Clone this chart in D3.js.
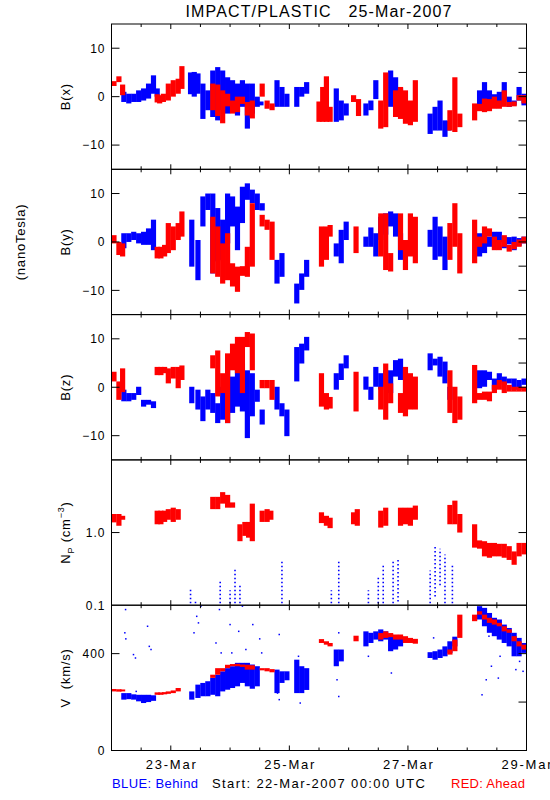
<!DOCTYPE html>
<html><head><meta charset="utf-8">
<script src="https://cdn.jsdelivr.net/npm/d3@7"></script>
<style>
body{margin:0;background:#fff}
svg{display:block}
text{font-family:"Liberation Sans",Arial,sans-serif;fill:#000}
</style>
</head><body>
<svg id="c" width="550" height="800"></svg>
<script>
// ---- data: hours since 22-Mar-2007 00:00 UTC, [hour, low, high] ranges per ~2h bin ----
const dayLabels = ["23-Mar","25-Mar","27-Mar","29-Mar"];
const dayLabelHours = [24,72,120,168];

const bxAhead = [
[1,2.2,3.2],[3,3,4.2],[4.5,0.3,2.5],
[18.5,-1.2,0.5],[19.5,-1.4,0.3],[21,-1.1,0.6],[23,-0.8,2.7],[25,0,3.4],[27,0.6,3.7],[28.5,1.6,6.3],
[41,-2.8,2.7],[43,-4,2.5],[45,-5.5,1.3],[47,-2,0.6],[49,-3.5,-0.8],[51,-3.2,0],[53,-1.5,0],[55,-3.9,-1.1],[57,-4.5,-0.8],
[61,0,2.7],[63,-2.5,-0.8],[65,-2.8,-1.4],
[84,-5.2,-1],[85.5,-5.2,2],[87,-5.2,4.2],[88.5,-5.2,-2.1],
[98,-1.1,0.3],[100,-4,-0.5],
[109,-6.6,-0.8],[111,-6.3,5],
[115,-4.2,1.3],[117,-4.6,2],[119,-5.6,1.3],[121,-5.9,-0.8],[123,-5.2,3.4],
[137,-7,-2.8],[139,-7.3,4],[141,-6.3,-3.5],
[147,-4.9,-1.4],[149,-3,-1.5],[151,-3.2,-0.4],[153,-3,-0.5],[155,-2.5,0],[157,-2.5,-0.8],[159,-2.1,1.3],[161,-2.1,-1.1],[163,-2,-1],[165,-0.8,0.3],[167,-1.4,0.3]
];
const bxBehind = [
[5,-1.1,1],[7,-1.4,0.6],[9,-1.1,0.6],[11,-1.1,1.3],[13,-0.8,1.7],[15,-0.4,2.7],[17,0.6,4.4],[18.5,0,1.7],
[32,0.5,5],[33.5,0,5.1],[35,0.6,4.8],[37,-4.6,2.7],[39,-2.8,1.3],[41,-4.2,5.4],[43,-4.9,6.1],[45,-2.8,5.4],[47,-3.5,4],[49,-2.8,3.4],[51,-3.9,2.7],[53,-2.1,3.4],[55,-6.6,2.7],[57,-3.5,2.7],[59,-2.1,0],[60.5,-1.8,-1],
[67,-2.1,3.4],[69,-2.1,2],[71,-2.1,0.6],
[75,-2.1,2],[77,0,2],[79,0.6,3],
[91,-5.2,1.7],[93,-4.9,-0.8],[95,-3.9,-1.4],
[103,-3.9,-1.4],[105,-2.8,-0.8],[107,-0.5,3.4],
[113,-2.1,5.4],[115,-1.4,4],[117,-2.1,1.7],
[129,-7.7,-3.5],[131,-7,-2.1],[133,-7,-0.8],[135,-8.3,-4.9],[136.5,-7,-5],
[149,-2.8,1.3],[151,-1.8,3],[153,-2.1,1.3],[155,-2,0.5],[157,-2.1,1],[159,-0.8,3],[161,-2.1,0],[163,-1.8,-0.8],[165,-0.8,2],[167,-1.8,0.6]
];
const byAhead = [
[1,-0.3,1.4],[3,-2.7,0],[4.5,-3,-0.3],
[18.5,-3.4,-1],[20,-3.4,-1],[21.5,-3,-0.6],[23,-2.3,3.9],[25,-1.7,3.2],[27,0.4,3.9],[28.5,1.1,6.3],
[41,-6.5,5.2],[43,-7.2,3.2],[45,-8.6,-0.3],[47,-7.9,1.8],[49,-9.2,-4.4],[51,-10.3,-5.1],[53,-7,-5],[55,-7.2,-1],[57,-5.1,8],
[61,3.2,5.6],[63,2.5,4.6],[65,-3.7,4.2],
[85,-5.1,3.2],[87,-3.7,3.2],[88.5,1.1,3.5],
[99,-2.3,3.2],
[109,-3,5.9],[111,-5.8,5.9],[113,-6.1,-2.3],
[117,-1.7,5.9],[119,-5.8,0.4],[121,-3,5.9],[123,-4.4,5.2],
[137,-3.7,3.9],[139,-1,8],[141,-6.5,1.8],
[147,-4.4,4.6],[149,-1,1.1],[151,-0.3,3.2],[153,1.1,2.8],[155,-1.7,1.1],[157,-1.7,0.4],[159,-1,1.4],[161,-2,-0.6],[163,-1.5,0],[165,-1,0.5],[167,-0.3,1.1]
];
const byBehind = [
[5,-1.3,1.8],[7,0,1.8],[9,0.4,2.1],[11,-0.3,1.8],[13,-0.6,2.1],[15,-0.6,2.8],[17,-1.7,4.6],
[32.5,-5.1,4.6],[35,-7.9,0.4],[37,3.2,9.4],[39,6.6,10],[41,-6.5,10],[43,-4,7],[45,-3.7,4.6],[47,-0.3,10],[49,3.2,9.4],[51,-1.7,7.3],[53,3.9,11.4],[55,8.7,12.1],[57,8,10.8],[59,6.6,10],[61,6.5,8],
[67,-8.6,-3.7],[69,-7.2,-2.3],
[75,-12.7,-8.6],[77,-9.9,-6.5],[79,-7.2,-3.7],
[91,-3,-0.3],[93,-4.4,2.5],[95,0.4,4.2],
[103,-1,1.1],[105,-1,3],[107,-3,1.8],[109,0.4,5.2],[111,1.5,5.9],[113,3.2,6.3],[115,1.1,5.9],[117,-3.7,1.8],
[129,-1,2.5],[131,-3.7,5.2],[133,-3,3.2],[135,-5.8,1.1],
[149,-3,1.8],[151,-2.3,1.1],[153,-1,1.1],[155,0,2.1],[157,0,2.1],[159,-1.3,1.1],[161,-0.5,1],[163,-1.7,1.1],[165,-0.8,0.8],[167,-0.3,1.1]
];
const bzAhead = [
[1,1.2,3.2],[3,-2.6,1.2],[4.5,-1,3.9],
[18.5,2.5,4.2],[20,2.5,4.2],[21.5,2.9,4.2],[23,0.8,3.9],[25,1.8,4.2],[27,-0.2,4.2],[28.5,1.5,4.5],
[41,3.9,6.6],[43,-1.9,7.6],[45,-1.2,2.9],[47,-7.4,7],[49,3.5,9],[51,2.9,10.4],[53,-1.2,10.4],[55,8.3,11.4],[57,3.5,11.1],
[61,-0.2,1.5],[63,-0.2,1.5],[65,-2.6,1.5],
[85,-4,2.9],[87,-4.6,-1.2],[88.5,-4.4,-2],
[99,-5,3.2],
[109,-4.6,0.1],[111,-6.7,4.9],[113,-3.3,0.8],
[117,-5.3,-1.2],[119,-6,4.2],[121,-4.6,2.9],[123,-4.6,2.2],
[137,-5.3,3.5],[139,-7.4,0.1],[141,-6.7,-1.9],
[147,-3.3,4.6],[149,-2.6,-1.2],[151,-2.6,-0.9],[153,-2.9,-0.9],[155,-1.2,0.5],[157,-0.5,1.5],[159,-1.2,1.2],[161,-0.9,0.5],[163,-0.9,0.1],[165,-0.9,0.1],[167,-0.9,0.1]
];
const bzBehind = [
[5,-2.9,-0.5],[7,-2.9,-1.2],[9,-2.6,-1.2],[11,-1.6,0.1],[13,-4,-2.6],[15,-3.6,-2.6],[17,-4.3,-2.9],
[32.5,-3.3,0.1],[35,-4.6,-0.5],[37,-7,-1.9],[39,-4.6,-0.5],[41,-5.3,-1.2],[43,-7.4,-3.3],[45,-6.7,0.1],[47,-7.4,5.6],[49,-5.3,2.2],[51,-4,4.2],[53,-5,4.9],[55,-10.5,3.5],[57,-6,2.9],[59,-3,-0.5],[61,-7.7,-4.6],
[67,-4.6,0.1],[69,-6,-3.3],[71,-10.1,-4.6],
[75,1.2,8.3],[77,4.9,9],[79,7.6,10.4],
[91,-0.5,2.9],[93,1.5,4.9],[95,3.9,6.6],
[103,-0.5,2.2],[105,-2.6,0.1],[107,0.1,4.2],[109,-0.5,2.9],[111,0.1,3.5],[113,-1.2,3.5],[115,2.2,5.6],[117,1.5,5.9],
[129,3.5,7],[131,4.5,5.9],[133,2.2,6.3],[135,0.8,5.3],[137,-2.6,0.1],
[149,-0.2,3.5],[151,0.1,3.5],[153,1.5,3.2],[155,-0.5,1.8],[157,1.2,2.9],[159,0.5,2.2],[161,0.8,1.8],[163,-0.5,1.8],[165,-0.5,1.5],[167,0.5,1.8]
];
const npAhead = [
[1,1.38,1.8],[3,1.24,1.8],[4.5,1.5,1.7],
[18.5,1.3,2.0],[20,1.3,2.0],[21.5,1.4,2.0],[23,1.5,2.1],[25,1.4,2.2],[27,1.5,2.1],
[41,2.1,3.1],[43,2.1,3.1],[45,2.5,3.6],[47,2.2,3.3],[49,2.2,2.6],
[52,0.76,1.3],[54,0.9,1.4],[55.5,0.85,1.4],[57,0.76,2.5],
[61,1.4,2.0],[63,1.4,2.1],[64.5,1.5,2.0],
[85,1.35,1.9],[87,1.24,1.7],[88.5,1.15,1.6],
[98,1.3,1.9],[99.5,1.24,2.1],
[109,1.17,2.0],[111,1.24,2.2],
[117,1.24,2.2],[119,1.3,2.2],[121,1.24,2.2],[123,1.5,2.35],
[137,1.3,2.4],[139,1.3,2.75],[141,1.0,1.8],
[147,0.62,1.3],[149,0.6,0.78],[151,0.47,0.76],[153,0.45,0.72],[155,0.47,0.72],[157,0.47,0.7],[159,0.45,0.7],[161,0.42,0.65],[163,0.36,0.55],[165,0.47,0.72],[167,0.5,0.72]
];
const npBehind = [
[32,0.1,0.17],[34,0.1,0.12],[44,0.1,0.21],[48,0.1,0.16],[50,0.1,0.33],[52,0.1,0.2],[69,0.1,0.42],
[89,0.1,0.16],[92,0.1,0.4],[104,0.1,0.16],[108,0.1,0.25],[110,0.1,0.36],[114,0.1,0.4],[116,0.12,0.42],
[129,0.1,0.3],[131,0.14,0.65],[133,0.2,0.6],[135,0.1,0.5],[138,0.1,0.35]
];
const vAhead = [
[1,244,254],[3,243,253],[4.5,244,252],
[18.5,230,240],[20,230,240],[21.5,232,241],[23,234,244],[25,237,248],[27,244,258],
[41,300,313],[43,313,340],[45,327,340],[47,340,354],[49,348,357],[51,348,358],[53,345,355],
[55,334,354],[57,334,352],
[61,331,340],[63,327,340],[65,323,336],
[85,444,460],[87,437,451],[88.5,430,444],
[99,451,474],
[109,458,485],[111,465,492],[113,468,485],[115,458,479],[117,458,479],[119,444,472],[121,444,465],[123,441,461],
[137,396,417],[139,410,458],[141,465,561],
[147,534,561],[149,561,575],[151,541,561],[153,527,548],[155,520,541],[157,513,527],[159,492,513],[161,486,500],[163,451,472],[165,430,451],[167,417,437]
];
const vBehind = [
[5,210,237],[7,212,237],[9,210,232],[11,203,230],[13,196,230],[15,200,230],[17,205,228],
[32.5,210,244],[35,217,272],[37,224,279],[39,224,286],[41,230,300],[43,224,313],[45,244,327],[47,251,340],[49,258,348],[51,265,362],[53,279,362],[55,265,362],[57,255,355],[59,265,348],
[67,237,334],[69,279,327],[71,290,327],
[75,237,375],[77,237,348],[79,250,340],
[91,348,417],[93,368,417],
[103,430,492],[105,444,486],[107,458,492],[109,451,500],[111,458,492],[113,410,479],[115,417,472],[117,430,472],
[129,382,406],[131,375,410],[133,382,417],[135,389,430],[137,403,451],[139,430,470],
[149,541,596],[151,513,589],[153,486,568],[155,472,548],[157,458,541],[159,444,520],[161,430,506],[163,389,486],[165,389,465],[167,403,444]
];
const vBehindScatter = [
[5.4,486],[5.8,461],[5.7,582],[8.9,396],[9.7,382],[14.6,513],[15.3,430],[16,417],[10,244],
[33.4,486],[34.5,554],[35.2,527],[36.2,596],[42.3,444],[43.7,582],[44.4,403],[48,520],[48.7,403],[51.5,492],[53,596],
[54.4,417],[57.2,520],[60,461],[60.8,403],[67.9,479],[67.9,210],[67.2,237],[75.7,389],[76.4,196],
[92,486],[92,223],[91.3,292],[104,389],[113.3,320],[130.4,465],
[150,230],[151.7,292],[153.8,348],[156.6,299],[163.7,334],[165.2,368],[166.6,327],[152.8,472],[157.3,389]
];

// ---- layout ----
const L = 111.5, R = 526.5, TOP = 24, PH = 145.3;
const BLUE = "#0000ff", RED = "#ff0000";
const svg = d3.select("#c");
svg.append("rect").attr("width", 550).attr("height", 800).attr("fill", "#fff");
const x = d3.scaleLinear().domain([0, 168]).range([L, R]);
const halfBin = 1.05;

const panels = [
  {label:"B(x)", log:false, domain:[-15,15], leftTicks:[-10,0,10], rightTicks:[-10,-5,0,5,10], tickFmt:d3.format("d"), a:bxAhead, b:bxBehind},
  {label:"B(y)", log:false, domain:[-15,15], leftTicks:[-10,0,10], rightTicks:[-10,-5,0,5,10], tickFmt:d3.format("d"), a:byAhead, b:byBehind},
  {label:"B(z)", log:false, domain:[-15,15], leftTicks:[-10,0,10], rightTicks:[-10,-5,0,5,10], tickFmt:d3.format("d"), a:bzAhead, b:bzBehind},
  {label:"Np", log:true, domain:[0.1,10], leftTicks:[0.1,1], rightTicks:[1], tickFmt:d3.format(".1f"), a:npAhead, b:npBehind},
  {label:"V", log:false, domain:[0,600], leftTicks:[0,400], rightTicks:[200,400], tickFmt:d3.format("d"), a:vAhead, b:vBehind}
];

const defs = svg.append("defs");

panels.forEach((p, i) => {
  const top = TOP + i * PH, bot = top + PH;
  const y = (p.log ? d3.scaleLog() : d3.scaleLinear()).domain(p.domain).range([bot, top]);
  defs.append("clipPath").attr("id", "clip" + i)
    .append("rect").attr("x", L).attr("y", top).attr("width", R - L).attr("height", PH);
  const g = svg.append("g").attr("clip-path", "url(#clip" + i + ")");

  const bars = (data, color) => g.append("g").selectAll("rect").data(data).join("rect")
    .attr("x", d => x(d[0] - halfBin))
    .attr("width", d => x(d[0] + halfBin) - x(d[0] - halfBin))
    .attr("y", d => y(d[2]))
    .attr("height", d => Math.max(1.5, y(d[1]) - y(d[2])))
    .attr("fill", color);

  if (i === 3) {
    g.append("g").selectAll("line").data(p.b).join("line")
      .attr("x1", d => x(d[0])).attr("x2", d => x(d[0]))
      .attr("y1", d => y(d[1]) + 2).attr("y2", d => y(d[2]))
      .attr("stroke", BLUE).attr("stroke-width", 1.6).attr("stroke-dasharray", "1.5,2.5");
  } else {
    bars(p.b, BLUE);
  }
  if (i === 4) {
    g.append("g").selectAll("rect").data(vBehindScatter).join("rect")
      .attr("x", d => x(d[0]) - 0.75).attr("y", d => y(d[1]) - 0.75)
      .attr("width", 1.5).attr("height", 1.5).attr("fill", BLUE);
  }
  bars(p.a, RED);

  // frame
  svg.append("rect").attr("x", L).attr("y", top).attr("width", R - L).attr("height", PH)
    .attr("fill", "none").attr("stroke", "#000").attr("stroke-width", 1);

  // y ticks (inward)
  const tk = svg.append("g").attr("stroke", "#000").attr("stroke-width", 1);
  p.leftTicks.forEach(v => {
    if (y(v) > top + 0.5 && y(v) < bot - 0.5)
      tk.append("line").attr("x1", L).attr("x2", L + 8).attr("y1", y(v)).attr("y2", y(v));
  });
  p.rightTicks.forEach(v => {
    tk.append("line").attr("x1", R).attr("x2", R - 8).attr("y1", y(v)).attr("y2", y(v));
  });
  // tick labels
  p.leftTicks.forEach(v => {
    svg.append("text").attr("x", L - 6).attr("y", y(v)).attr("dy", "0.36em")
      .attr("text-anchor", "end").attr("font-size", 12).attr("letter-spacing", 1)
      .text(p.tickFmt(v));
  });
  // x ticks (inward, top and bottom)
  d3.range(12, 168, 12).forEach(h => {
    const len = (h % 48 === 24) ? 5 : 3;
    tk.append("line").attr("x1", x(h)).attr("x2", x(h)).attr("y1", bot).attr("y2", bot - len);
    tk.append("line").attr("x1", x(h)).attr("x2", x(h)).attr("y1", top).attr("y2", top + len);
  });
});

// y axis titles
const ytitle = (cx, cy, txt) => svg.append("text")
  .attr("transform", `translate(${cx},${cy}) rotate(-90)`)
  .attr("text-anchor", "middle").attr("font-size", 13).attr("letter-spacing", 0.8).text(txt);
ytitle(70, TOP + PH * 0.5, "B(x)");
ytitle(70, TOP + PH * 1.5, "B(y)");
ytitle(70, TOP + PH * 2.5, "B(z)");
ytitle(70, TOP + PH * 4.5, "V  (km/s)").style("white-space", "pre");
ytitle(25, TOP + PH * 1.5, "(nanoTesla)");
// Np label with subscript / superscript
{
  const t = svg.append("text")
    .attr("transform", `translate(70,${TOP + PH * 3.5}) rotate(-90)`)
    .attr("text-anchor", "middle").attr("font-size", 13).attr("letter-spacing", 0.8)
    .style("white-space", "pre");
  t.append("tspan").text("N");
  t.append("tspan").attr("font-size", 9).attr("dy", 4).text("P");
  t.append("tspan").attr("dy", -4).text(" (cm");
  t.append("tspan").attr("font-size", 9).attr("dy", -6).text("−3");
  t.append("tspan").attr("dy", 6).text(")");
}

// title
svg.append("text").attr("x", 318.5).attr("y", 17).attr("text-anchor", "middle")
  .attr("font-size", 16).attr("textLength", 266).attr("lengthAdjust", "spacing")
  .style("white-space", "pre").attr("xml:space", "preserve")
  .text("IMPACT/PLASTIC   25-Mar-2007");

// bottom date labels
const bottom = TOP + 5 * PH;
dayLabelHours.forEach((h, k) => {
  svg.append("text").attr("x", x(h)).attr("y", bottom + 18.5).attr("text-anchor", "middle")
    .attr("font-size", 13).attr("textLength", 50).attr("lengthAdjust", "spacing").text(dayLabels[k]);
});
// legend line
svg.append("text").attr("x", 112).attr("y", 787.5).attr("font-size", 13)
  .style("fill", BLUE).attr("textLength", 86).attr("lengthAdjust", "spacing").text("BLUE: Behind");
svg.append("text").attr("x", 212).attr("y", 787.5).attr("font-size", 13)
  .attr("textLength", 213).attr("lengthAdjust", "spacing").text("Start: 22-Mar-2007 00:00 UTC");
svg.append("text").attr("x", 451).attr("y", 787.5).attr("font-size", 13)
  .style("fill", RED).attr("textLength", 74).attr("lengthAdjust", "spacing").text("RED: Ahead");
</script>
</body></html>
